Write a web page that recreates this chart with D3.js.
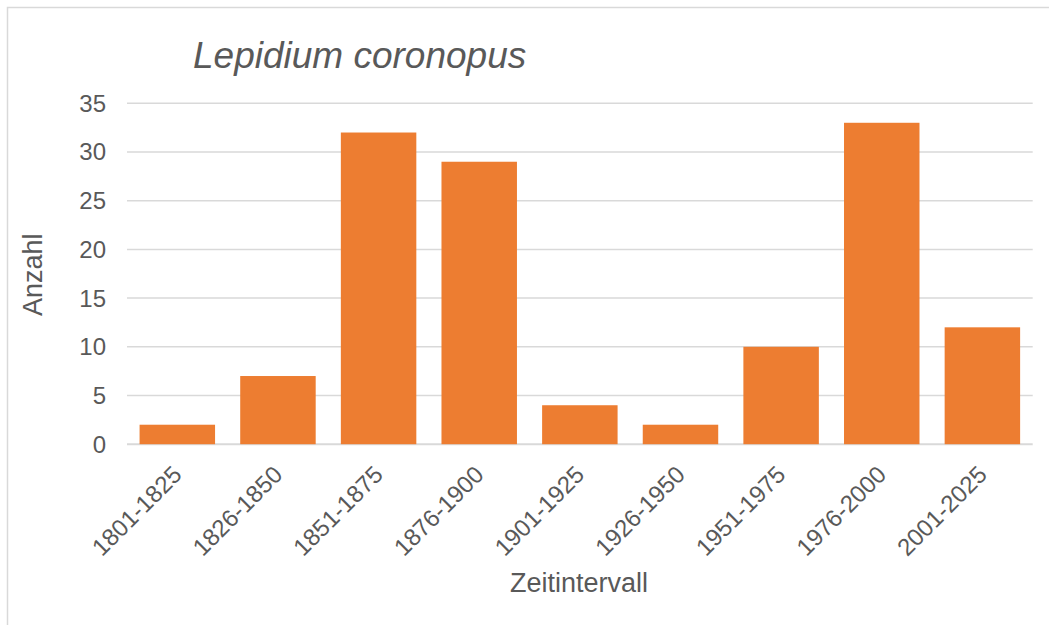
<!DOCTYPE html>
<html>
<head>
<meta charset="utf-8">
<script src="https://cdn.jsdelivr.net/npm/d3@7"></script>
<style>
  html, body { margin: 0; padding: 0; background: #ffffff; }
  svg { display: block; }
  text { font-family: "Liberation Sans", Arial, sans-serif; fill: #595959; }
</style>
</head>
<body>
<svg id="chart" width="1049" height="625"></svg>
<script>
const categories = ["1801-1825", "1826-1850", "1851-1875", "1876-1900", "1901-1925", "1926-1950", "1951-1975", "1976-2000", "2001-2025"];
const counts = [2, 7, 32, 29, 4, 2, 10, 33, 12];
const yTicks = [0, 5, 10, 15, 20, 25, 30, 35];
const chartTitle = "Lepidium coronopus";
const xTitle = "Zeitintervall";
const yTitle = "Anzahl";

const svg = d3.select("#chart");

// chart border
svg.append("rect")
  .attr("x", 7.5).attr("y", 7.5)
  .attr("width", 1100).attr("height", 700)
  .attr("fill", "none").attr("stroke", "#d9d9d9").attr("stroke-width", 1.5);

const plot = { left: 127, right: 1032.7, top: 103.3, bottom: 444.2 };

const x = d3.scaleBand()
  .domain(categories)
  .range([plot.left, plot.right])
  .paddingInner(0.25)
  .paddingOuter(0.125);

const y = d3.scaleLinear()
  .domain([0, 35])
  .range([plot.bottom, plot.top]);

// gridlines
svg.append("g")
  .selectAll("line")
  .data(yTicks)
  .join("line")
  .attr("x1", plot.left).attr("x2", plot.right)
  .attr("y1", d => y(d)).attr("y2", d => y(d))
  .attr("stroke", "#d9d9d9")
  .attr("stroke-width", d => d === 0 ? 2 : 1.5);

// y tick labels
svg.append("g")
  .selectAll("text")
  .data(yTicks)
  .join("text")
  .attr("x", 106)
  .attr("y", d => y(d))
  .attr("dy", "0.35em")
  .attr("text-anchor", "end")
  .style("font-size", "24px")
  .text(d => d);

// bars
svg.append("g")
  .selectAll("rect")
  .data(counts)
  .join("rect")
  .attr("x", (d, i) => x(categories[i]))
  .attr("width", x.bandwidth())
  .attr("y", d => y(d))
  .attr("height", d => y(0) - y(d))
  .attr("fill", "#ed7d31");

// x tick labels
svg.append("g")
  .selectAll("text")
  .data(categories)
  .join("text")
  .attr("transform", d => `translate(${x(d) + x.bandwidth() / 2},${plot.bottom + 26}) rotate(-45)`)
  .attr("dy", "0.35em")
  .attr("text-anchor", "end")
  .style("font-size", "24px")
  .text(d => d);

// chart title
svg.append("text")
  .attr("x", 193)
  .attr("y", 68)
  .style("font-size", "37px")
  .style("font-style", "italic")
  .text(chartTitle);

// axis titles
svg.append("text")
  .attr("x", 579)
  .attr("y", 592)
  .attr("text-anchor", "middle")
  .style("font-size", "27px")
  .text(xTitle);

svg.append("text")
  .attr("transform", `translate(42,${(plot.top + plot.bottom) / 2 + 1}) rotate(-90)`)
  .attr("text-anchor", "middle")
  .style("font-size", "27px")
  .text(yTitle);
</script>
</body>
</html>
